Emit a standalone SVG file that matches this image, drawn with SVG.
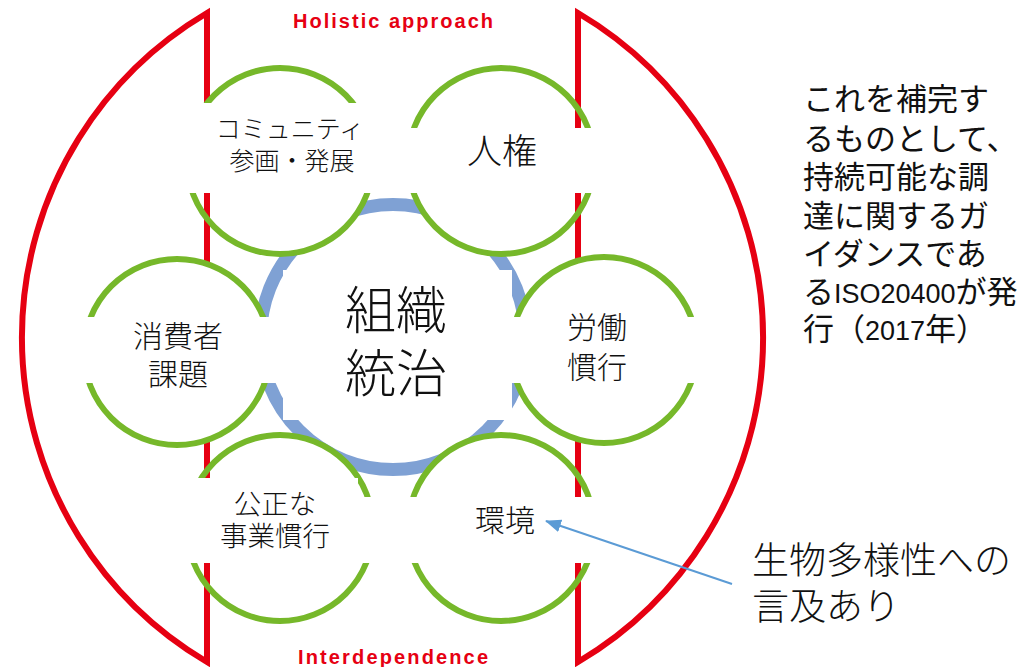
<svg xmlns="http://www.w3.org/2000/svg" width="1026" height="667" viewBox="0 0 1026 667">
<style>
.red{fill:none;stroke:#e60012;stroke-width:6;stroke-linejoin:miter;stroke-miterlimit:20}
.fillw{fill:#fff;stroke:none}
.ring{fill:none;stroke:#7fa1d4;stroke-width:13}
.grn{fill:none;stroke:#76b82a;stroke-width:6}
.band{fill:#fff;stroke:none}
.jp{font-family:"Noto Sans CJK JP","Noto Sans CJK SC",sans-serif;fill:#111;font-weight:300;text-anchor:middle}
.side{font-family:"Noto Sans CJK JP","Noto Sans CJK SC",sans-serif;fill:#111;font-size:31px}
.lat{font-family:"Liberation Sans",Arial,sans-serif;font-size:27px}
.ttl{font-family:"Liberation Sans",Arial,sans-serif;fill:#e60012;font-size:20px;font-weight:bold}
</style>
<defs>
<marker id="ah" markerUnits="userSpaceOnUse" markerWidth="18" markerHeight="14" refX="15" refY="6.5" orient="auto">
<path d="M0,0 L16,6.5 L0,13 Z" fill="#5b9bd5"/>
</marker>
</defs>

<g id="center-ring"><circle class="ring" cx="393" cy="337" r="132.5"/></g>

<g id="fills-under">
<circle class="fillw" cx="280" cy="161" r="93"/>
<circle class="fillw" cx="501" cy="161" r="93"/>
<circle class="fillw" cx="280" cy="528" r="93"/>
<circle class="fillw" cx="501" cy="528" r="93"/>
</g>

<g id="frame">
<path class="red" d="M207,13 A377,377 0 0 0 207,662 Z"/>
<path class="red" d="M578,13 A377,377 0 0 1 578,662 Z"/>
<text class="ttl" x="293" y="28" textLength="200" lengthAdjust="spacing">Holistic approach</text>
<text class="ttl" x="298" y="664" textLength="190" lengthAdjust="spacing">Interdependence</text>
</g>

<g id="fills-over">
<circle class="fillw" cx="177" cy="352" r="93"/>
<circle class="fillw" cx="604" cy="350" r="93"/>
</g>

<g id="node-community">
<circle class="grn" cx="280" cy="161" r="93"/>
<rect class="band" x="183" y="103" width="195" height="90"/>
<text class="jp" font-size="25" x="290" y="138">コミュニティ</text>
<text class="jp" font-size="25" x="292" y="170">参画・発展</text>
</g>

<g id="node-human-rights">
<circle class="grn" cx="501" cy="161" r="93"/>
<rect class="band" x="405" y="128" width="195" height="65"/>
<text class="jp" font-size="35" x="502" y="164">人権</text>
</g>

<g id="node-consumer">
<circle class="grn" cx="177" cy="352" r="93"/>
<rect class="band" x="78" y="317" width="200" height="66"/>
<text class="jp" font-size="30" x="178" y="347">消費者</text>
<text class="jp" font-size="30" x="178" y="385">課題</text>
</g>

<g id="node-labour">
<circle class="grn" cx="604" cy="350" r="93"/>
<rect class="band" x="508" y="317" width="192" height="66"/>
<text class="jp" font-size="30" x="597" y="338">労働</text>
<text class="jp" font-size="30" x="597" y="378">慣行</text>
</g>

<g id="node-fair">
<circle class="grn" cx="280" cy="528" r="93"/>
<rect class="band" x="183" y="478" width="175" height="85"/>
<text class="jp" font-size="27.5" x="275" y="514">公正な</text>
<text class="jp" font-size="27.5" x="275" y="546">事業慣行</text>
</g>

<g id="node-environment">
<circle class="grn" cx="501" cy="528" r="93"/>
<rect class="band" x="360" y="497" width="240" height="66"/>
<text class="jp" font-size="30" x="505" y="531">環境</text>
</g>

<g id="node-governance">
<rect class="band" x="283" y="270" width="229" height="150"/>
<text class="jp" font-size="51" x="396" y="329">組織</text>
<text class="jp" font-size="51" x="396" y="392">統治</text>
</g>

<g id="note-iso">
<text class="side" x="803" y="110">これを補完す</text>
<text class="side" x="803" y="149.5">るものとして、</text>
<text class="side" x="803" y="188">持続可能な調</text>
<text class="side" x="803" y="226.5">達に関するガ</text>
<text class="side" x="803" y="264.5">イダンスであ</text>
<text class="side" x="803" y="303">る<tspan class="lat">ISO20400</tspan>が発</text>
<text class="side" x="803" y="340">行（<tspan class="lat">2017</tspan>年）</text>
</g>

<g id="note-biodiversity">
<text class="jp" font-size="37" x="752" y="574" style="text-anchor:start">生物多様性への</text>
<text class="jp" font-size="37" x="752" y="620" style="text-anchor:start">言及あり</text>
</g>

<g id="connectors">
<line x1="732" y1="584" x2="546" y2="521" stroke="#5b9bd5" stroke-width="2" marker-end="url(#ah)"/>
</g>
</svg>
